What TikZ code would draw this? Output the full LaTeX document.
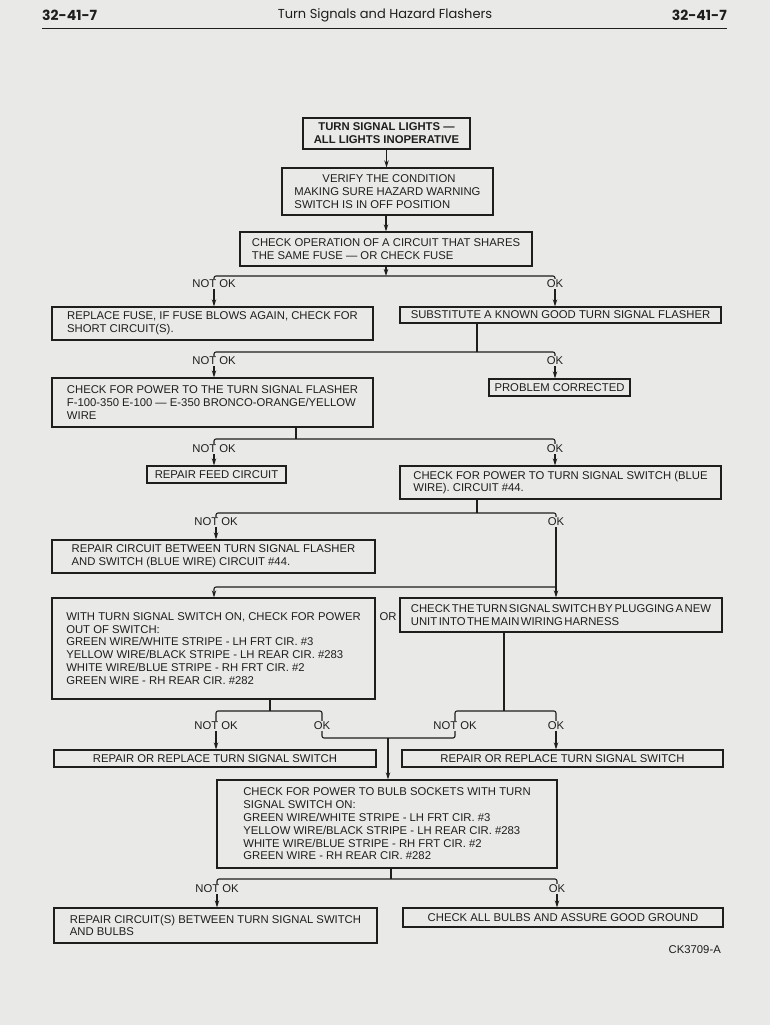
\documentclass[tikz,border=0pt]{standalone}
\usepackage{fontspec}
\setmainfont{Liberation Sans}
\newfontfamily\hdfam{Poppins}
\usetikzlibrary{arrows.meta}
\definecolor{bg}{RGB}{233,233,231}
\definecolor{ink}{RGB}{30,30,30}
\newcommand\bxfont{\fontsize{11.3}{12.8}\selectfont}
\newcommand\tightsp{\spaceskip=1.5pt plus 0.5pt minus 0.5pt\relax}
\begin{document}
\begin{tikzpicture}[x=1pt,y=-1pt,
 box/.style={draw=ink, line width=1.3pt, text=ink, font=\bxfont, align=left, inner sep=1pt},
 cbox/.style={box, align=center},
 lbl/.style={text=ink, font=\bxfont, inner sep=1pt},
 conn/.style={draw=ink, line width=1.1pt, rounded corners=2pt},
 arr/.style={conn, -{Stealth[length=7pt,width=4.5pt]}},
 hd/.style={text=ink, inner sep=0pt}
]
\fill[bg] (0,0) rectangle (770,1025);
\useasboundingbox (0,0) rectangle (770,1025);

% header
\node[hd, anchor=west, font=\hdfam\bfseries\fontsize{14}{16}\selectfont] (pl) at (42,15) {32-41-7};
\node[hd, font=\hdfam\fontsize{13}{16}\selectfont] (ht) at (385,15) {Turn Signals and Hazard Flashers};
\node[hd, anchor=east, font=\hdfam\bfseries\fontsize{14}{16}\selectfont] (pr) at (727,15) {32-41-7};
\coordinate (rl) at (42,28.5);
\coordinate (rr) at (727,28.5);
\draw[ink, line width=1.6pt] (rl) -- (rr);

% boxes
\node[cbox, font=\bxfont\bfseries, minimum width=167pt, minimum height=31pt] (title) at (386.5,133.5) {TURN SIGNAL LIGHTS —\\ALL LIGHTS INOPERATIVE};
\node[box, minimum width=211pt, minimum height=47pt] (verify) at (387.5,191.5) {\hspace*{28pt}VERIFY THE CONDITION\\MAKING SURE HAZARD WARNING\\SWITCH IS IN OFF POSITION};
\node[box, minimum width=292pt, minimum height=34pt] (checkop) at (386,249) {CHECK OPERATION OF A CIRCUIT THAT SHARES\\THE SAME FUSE — OR CHECK FUSE};
\node[box, minimum width=321pt, minimum height=33pt] (fuse) at (212.5,323.5) {REPLACE FUSE, IF FUSE BLOWS AGAIN, CHECK FOR\\SHORT CIRCUIT(S).};
\node[cbox, minimum width=321pt, minimum height=16pt] (subst) at (560.5,315) {SUBSTITUTE A KNOWN GOOD TURN SIGNAL FLASHER};
\node[box, minimum width=321pt, minimum height=49pt] (power) at (212.5,402.5) {CHECK FOR POWER TO THE TURN SIGNAL FLASHER\\F-100-350 E-100 — E-350 BRONCO-ORANGE/YELLOW\\WIRE};
\node[cbox, minimum width=141pt, minimum height=17pt] (corrected) at (559.5,387.5) {PROBLEM CORRECTED};
\node[cbox, minimum width=139pt, minimum height=17pt] (feed) at (216.5,474.5) {REPAIR FEED CIRCUIT};
\node[box, minimum width=321pt, minimum height=33pt] (tsw) at (560.5,482.5) {CHECK FOR POWER TO TURN SIGNAL SWITCH (BLUE\\WIRE). CIRCUIT \#44.};
\node[box, minimum width=323pt, minimum height=33pt] (repcirc) at (213.5,556.5) {REPAIR CIRCUIT BETWEEN TURN SIGNAL FLASHER\\AND SWITCH (BLUE WIRE) CIRCUIT \#44.};
\node[box, minimum width=323pt, minimum height=101pt] (withts) at (213.5,648.5) {WITH TURN SIGNAL SWITCH ON, CHECK FOR POWER\\OUT OF SWITCH:\\GREEN WIRE/WHITE STRIPE - LH FRT CIR. \#3\\YELLOW WIRE/BLACK STRIPE - LH REAR CIR. \#283\\WHITE WIRE/BLUE STRIPE - RH FRT CIR. \#2\\GREEN WIRE - RH REAR CIR. \#282};
\node[lbl] (or) at (388,617) {OR};
\node[box, minimum width=322pt, minimum height=34pt, font=\bxfont\tightsp] (plug) at (561,615) {CHECK THE TURN SIGNAL SWITCH BY PLUGGING A NEW\\UNIT INTO THE MAIN WIRING HARNESS};
\node[cbox, minimum width=322pt, minimum height=17pt] (repL) at (215,758.5) {REPAIR OR REPLACE TURN SIGNAL SWITCH};
\node[cbox, minimum width=321pt, minimum height=17pt] (repR) at (562.5,758.5) {REPAIR OR REPLACE TURN SIGNAL SWITCH};
\node[box, minimum width=340pt, minimum height=88pt] (bulb) at (387,824) {CHECK FOR POWER TO BULB SOCKETS WITH TURN\\SIGNAL SWITCH ON:\\GREEN WIRE/WHITE STRIPE - LH FRT CIR. \#3\\YELLOW WIRE/BLACK STRIPE - LH REAR CIR. \#283\\WHITE WIRE/BLUE STRIPE - RH FRT CIR. \#2\\GREEN WIRE - RH REAR CIR. \#282};
\node[box, minimum width=323pt, minimum height=35pt] (repbulb) at (215.5,925.5) {REPAIR CIRCUIT(S) BETWEEN TURN SIGNAL SWITCH\\AND BULBS};
\node[cbox, minimum width=320pt, minimum height=19pt] (chkbulbs) at (563,917.5) {CHECK ALL BULBS AND ASSURE GOOD GROUND};
\node[lbl, anchor=east] (ck) at (722,950) {CK3709-A};

% labels
\node[lbl] (n1) at (214,284) {NOT OK};
\node[lbl] (o1) at (555,284) {OK};
\node[lbl] (n2) at (214,361) {NOT OK};
\node[lbl] (o2) at (555,361) {OK};
\node[lbl] (n3) at (214,449) {NOT OK};
\node[lbl] (o3) at (555,449) {OK};
\node[lbl] (n4) at (216,522) {NOT OK};
\node[lbl] (o4) at (556,522) {OK};
\node[lbl] (n6) at (216,726) {NOT OK};
\node[lbl] (o6) at (322,726) {OK};
\node[lbl] (n8) at (455,726) {NOT OK};
\node[lbl] (o8) at (556,726) {OK};
\node[lbl] (n9) at (217,889) {NOT OK};
\node[lbl] (o9) at (557,889) {OK};

% junctions
\coordinate (j1) at (386,276);
\coordinate (j2) at (477,352);
\coordinate (j3) at (296,439);
\coordinate (j4) at (477,513);
\coordinate (j5L) at (214,587);
\coordinate (j5R) at (556,587);
\coordinate (j6) at (270,711);
\coordinate (j7) at (388,738);
\coordinate (j8) at (504,711);
\coordinate (j9) at (391,879);

% connectors
\draw[arr] (title.south) -- (title.south |- verify.north);
\draw[arr] (checkop.north |- verify.south) -- (checkop.north);
\draw[arr] (checkop.south) -- (checkop.south |- j1);
\draw[conn] (n1.north) |- (j1) -| (o1.north);
\draw[arr] (n1.south) -- (n1.south |- fuse.north);
\draw[arr] (o1.south) -- (o1.south |- subst.north);

\draw[conn] (subst.south -| j2) -- (j2);
\draw[conn] (n2.north) |- (j2) -| (o2.north);
\draw[arr] (n2.south) -- (n2.south |- power.north);
\draw[arr] (o2.south) -- (o2.south |- corrected.north);

\draw[conn] (power.south -| j3) -- (j3);
\draw[conn] (n3.north) |- (j3) -| (o3.north);
\draw[arr] (n3.south) -- (n3.south |- feed.north);
\draw[arr] (o3.south) -- (o3.south |- tsw.north);

\draw[conn] (tsw.south -| j4) -- (j4);
\draw[conn] (n4.north) |- (j4) -| (o4.north);
\draw[arr] (n4.south) -- (n4.south |- repcirc.north);
\draw[conn] (o4.south) -- (j5R);
\draw[arr] (j5R) -| (j5L |- withts.north);
\draw[arr] (j5R) -- (j5R |- plug.north);

\draw[conn] (withts.south -| j6) -- (j6);
\draw[conn] (n6.north) |- (j6) -| (o6.north);
\draw[arr] (n6.south) -- (n6.south |- repL.north);
\draw[conn] (plug.south -| j8) -- (j8);
\draw[conn] (n8.north) |- (j8) -| (o8.north);
\draw[arr] (o8.south) -- (o8.south |- repR.north);
\draw[conn] (o6.south) |- (j7) -| (n8.south);
\draw[arr] (j7) -- (j7 |- bulb.north);

\draw[conn] (bulb.south -| j9) -- (j9);
\draw[conn] (n9.north) |- (j9) -| (o9.north);
\draw[arr] (n9.south) -- (n9.south |- repbulb.north);
\draw[arr] (o9.south) -- (o9.south |- chkbulbs.north);
\end{tikzpicture}
\end{document}
